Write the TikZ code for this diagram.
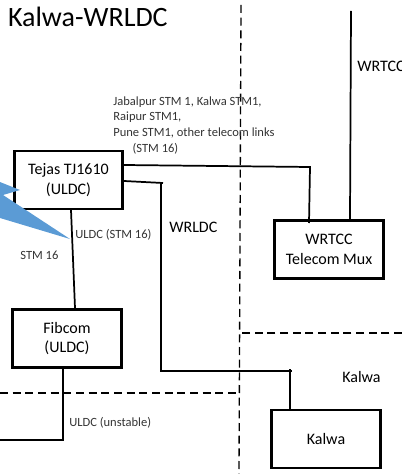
\documentclass[tikz,border=0pt]{standalone}
\usepackage{fontspec}
\setmainfont{Carlito}
\usetikzlibrary{positioning,calc}
\definecolor{ink}{RGB}{0,0,0}
\definecolor{callout}{RGB}{91,155,213}
\tikzset{
  x=0.75pt, y=-0.75pt,
  every picture/.style={color=ink, line width=0.5pt},
  device/.style={draw=ink, line width=2.1pt, fill=white, align=center, inner sep=0pt, minimum width=81.5pt, minimum height=43.5pt, font=\fontsize{12}{14.5}\selectfont},
  link/.style={line width=1.3pt},
  zone/.style={dash pattern=on 6pt off 3.5pt, line width=1pt},
  lbl/.style={font=\fontsize{9.4}{11.8}\selectfont, inner sep=0pt, align=left, text=black!80},
  tag/.style={font=\fontsize{12}{14}\selectfont, inner sep=0pt},
}
\begin{document}
\begin{tikzpicture}
  \useasboundingbox (0,0) rectangle (402,474);
  % zone borders
  \coordinate (zonetop) at (241,5);
  \coordinate (zonebot) at (239,474);
  \coordinate (zonecor) at (240,333);
  \coordinate (zoneeast) at (402,333);
  \coordinate (zonemid) at (238,393);
  \coordinate (zonewest) at (0,393);
  \draw[zone] (zonetop) -- (zonebot);
  \draw[zone] (zoneeast) -- (zonecor);
  \draw[zone] (zonewest) -- (zonemid);
  % boxes
  \node[device] (tejas) at (68.5,180) {Tejas TJ1610\\(ULDC)};
  \node[device] (fibcom) at (67,338.5) {Fibcom\\(ULDC)};
  \node[device] (mux) at (329,249.5) {WRTCC\\Telecom Mux};
  \node[device] (kalwa) at (326,439) {Kalwa};
  % free ends
  \coordinate (wrtccin) at (351,11);
  \coordinate (wrtccbot) at (350,219);
  \coordinate (teletop) at (124,165);
  \coordinate (teleturn) at (310,167);
  \coordinate (telebot) at (309,223);
  \coordinate (wrldca) at (124,181);
  \coordinate (wrldcb) at (163,183);
  \coordinate (wrldcc) at (161,183);
  \coordinate (wrldcd) at (161,371);
  \coordinate (wrldce) at (292,371);
  \coordinate (wrldcf) at (290,369);
  \coordinate (wrldcg) at (290,409);
  \coordinate (tejasdown) at (71,210);
  \coordinate (fibup) at (75,308);
  \coordinate (fibdown) at (63,369);
  \coordinate (fibturn) at (63,440);
  \coordinate (fibwest) at (0,440);
  % links
  \draw[link] (wrtccin) -- (wrtccbot);
  \draw[link] (teletop) -- (teleturn) -- (telebot);
  \draw[link] (wrldca) -- (wrldcb);
  \draw[link] (wrldcc) -- (wrldcd) -- (wrldce);
  \draw[link] (wrldcf) -- (wrldcg);
  \draw[link] (tejasdown) -- (fibup);
  \draw[link] (fibdown) -- (fibturn) -- (fibwest);
  % callout
  \fill[callout] (0,182) -- (20,190) -- (3,195) -- (70,239) -- (0,218) -- cycle;
  % labels
  \node[font=\fontsize{21}{24}\selectfont, inner sep=0pt, anchor=east] (title) at (168,17) {a Kalwa-WRLDC};
  \node[lbl, anchor=north west] (links) at (113,96) {Jabalpur STM 1, Kalwa STM1,\\Raipur STM1,\\Pune STM1, other telecom links\\\hspace{14.5pt}(STM 16)};
  \node[tag, anchor=west] (wrtcclbl) at (357,66) {WRTCC};
  \node[tag, anchor=west] (wrldclbl) at (169,227) {WRLDC};
  \node[lbl, anchor=west] (uldclbl) at (75,235) {ULDC (STM 16)};
  \node[lbl, anchor=west] (stmlbl) at (20,255) {STM 16};
  \node[lbl, anchor=west] (unstable) at (69,423) {ULDC (unstable)};
  \node[tag, anchor=west] (kalwalbl) at (342,377) {Kalwa};
\end{tikzpicture}
\end{document}
